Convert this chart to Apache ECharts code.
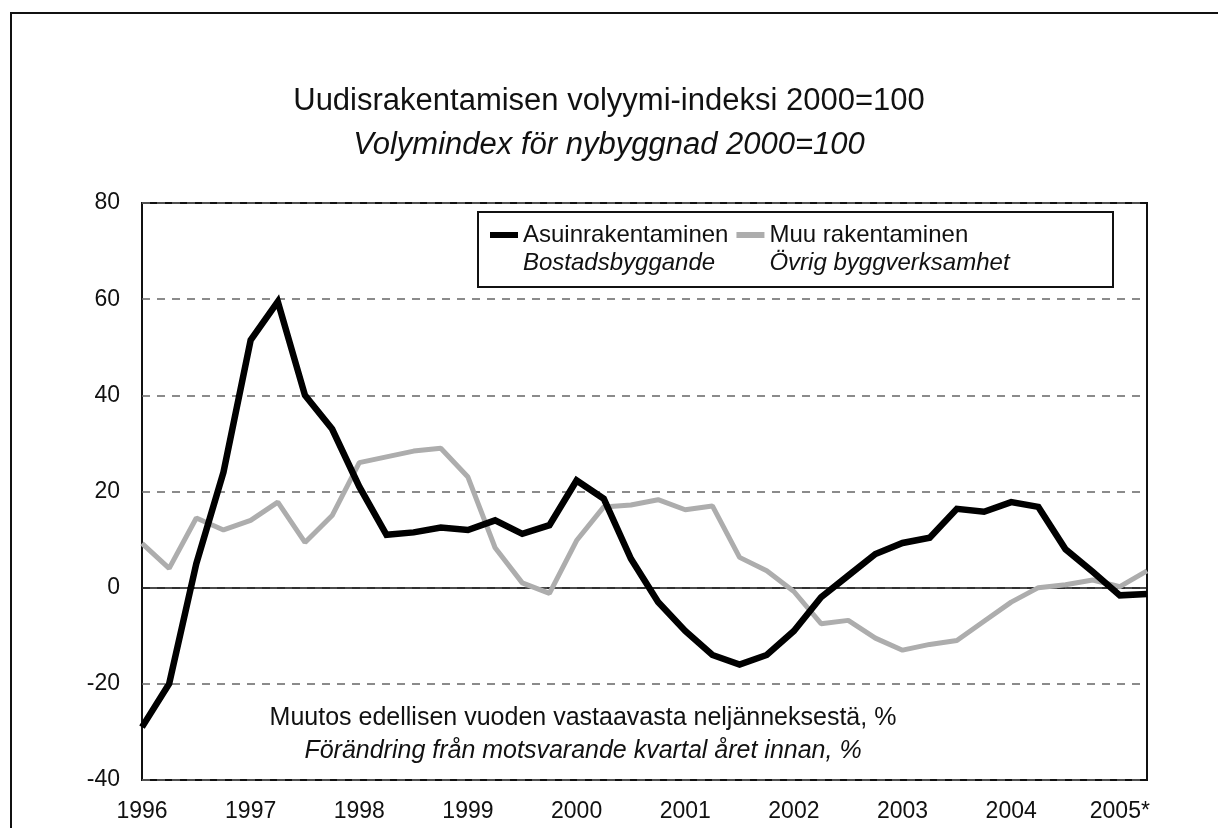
<!DOCTYPE html>
<html>
<head>
<meta charset="utf-8">
<title>Uudisrakentamisen volyymi-indeksi</title>
<script src="https://cdn.jsdelivr.net/npm/echarts@6/dist/echarts.min.js"></script>
<style>
  html, body { margin: 0; padding: 0; background: #fff; }
  #chart { width: 1218px; height: 828px; }
</style>
</head>
<body>
<div id="chart"></div>
<script>
const QUARTERS = [
  "1996 Q1", "1996 Q2", "1996 Q3", "1996 Q4",
  "1997 Q1", "1997 Q2", "1997 Q3", "1997 Q4",
  "1998 Q1", "1998 Q2", "1998 Q3", "1998 Q4",
  "1999 Q1", "1999 Q2", "1999 Q3", "1999 Q4",
  "2000 Q1", "2000 Q2", "2000 Q3", "2000 Q4",
  "2001 Q1", "2001 Q2", "2001 Q3", "2001 Q4",
  "2002 Q1", "2002 Q2", "2002 Q3", "2002 Q4",
  "2003 Q1", "2003 Q2", "2003 Q3", "2003 Q4",
  "2004 Q1", "2004 Q2", "2004 Q3", "2004 Q4",
  "2005 Q1", "2005 Q2"
];
const YEAR_LABELS = ["1996", "1997", "1998", "1999", "2000", "2001", "2002", "2003", "2004", "2005*"];

// Asuinrakentaminen / Bostadsbyggande
const housing = [
  -29, -20, 5, 24, 51.5, 59.5, 40, 33,
  21, 11, 11.5, 12.5, 12, 14, 11.2, 13,
  22.3, 18.5, 6, -3, -9, -14, -16, -14,
  -9, -2, 2.5, 7, 9.3, 10.4, 16.4, 15.8,
  17.8, 16.8, 8, 3.3, -1.6, -1.3
];
// Muu rakentaminen / Övrig byggverksamhet
const other = [
  9.2, 4, 14.5, 12, 14, 17.8, 9.4, 15,
  26, 27.2, 28.4, 29, 23, 8.3, 1, -1.2,
  9.8, 16.8, 17.2, 18.3, 16.2, 17, 6.3, 3.5,
  -0.8, -7.5, -6.8, -10.5, -13, -11.8, -11, -7,
  -3, 0, 0.6, 1.6, 0.2, 3.5
];

const FONT = "'Liberation Sans Narrow', 'Liberation Sans', Arial, sans-serif";

const chart = echarts.init(document.getElementById("chart"), null, { renderer: "canvas" });

chart.setOption({
  animation: false,
  backgroundColor: "#fff",
  title: [
    {
      text: "Uudisrakentamisen volyymi-indeksi 2000=100",
      subtext: "Volymindex för nybyggnad 2000=100",
      left: "center",
      top: 81,
      itemGap: 13,
      textStyle: { fontFamily: FONT, fontSize: 31, fontWeight: "normal", color: "#111" },
      subtextStyle: { fontFamily: FONT, fontSize: 31, fontStyle: "italic", color: "#111" }
    },
    {
      text: "Muutos edellisen vuoden vastaavasta neljänneksestä, %",
      subtext: "Förändring från motsvarande kvartal året innan, %",
      left: 578,
      textAlign: "center",
      top: 701,
      itemGap: 8,
      textStyle: { fontFamily: FONT, fontSize: 25, fontWeight: "normal", color: "#111" },
      subtextStyle: { fontFamily: FONT, fontSize: 25, fontStyle: "italic", color: "#111" }
    }
  ],
  legend: {
    left: 485,
    top: 191,
    itemGap: 8,
    icon: "rect",
    itemWidth: 28,
    itemHeight: 6,
    selectedMode: false,
    formatter: (name) => {
      const sub = name === "Asuinrakentaminen" ? "Bostadsbyggande" : "Övrig byggverksamhet";
      return `{s| }\n{a|${name}}\n{b|${sub}}`;
    },
    textStyle: {
      rich: {
        s: { fontSize: 22, lineHeight: 28 },
        a: { fontFamily: FONT, fontSize: 24, lineHeight: 28, color: "#111" },
        b: { fontFamily: FONT, fontSize: 24, lineHeight: 28, fontStyle: "italic", color: "#111" }
      }
    },
    data: ["Asuinrakentaminen", "Muu rakentaminen"]
  },
  graphic: [
    {
      type: "rect",
      shape: { x: 11, y: 13, width: 1230, height: 840 },
      style: { fill: "none", stroke: "#111", lineWidth: 2 },
      silent: true
    },
    {
      type: "rect",
      shape: { x: 478, y: 212, width: 635, height: 75 },
      style: { fill: "none", stroke: "#111", lineWidth: 2 },
      silent: true,
      z: 10
    }
  ],
  grid: {
    left: 142,
    right: 71,
    top: 203,
    bottom: 48,
    show: true,
    borderColor: "#111",
    borderWidth: 2
  },
  xAxis: {
    type: "category",
    boundaryGap: false,
    data: QUARTERS,
    axisLine: { show: false },
    axisTick: { show: false },
    axisLabel: {
      interval: 3,
      margin: 20,
      fontFamily: FONT,
      fontSize: 23,
      color: "#111",
      formatter: (value) => YEAR_LABELS[Math.round(QUARTERS.indexOf(value) / 4)]
    },
    splitLine: { show: false }
  },
  yAxis: {
    type: "value",
    min: -40,
    max: 80,
    interval: 20,
    axisLine: { show: false },
    axisTick: { show: false },
    axisLabel: { margin: 22, fontFamily: FONT, fontSize: 23, color: "#111" },
    splitLine: { lineStyle: { color: "#666", width: 1.5, type: [8, 7] } }
  },
  series: [
    {
      name: "Muu rakentaminen",
      type: "line",
      data: other,
      symbol: "none",
      color: "#adadad",
      lineStyle: { color: "#adadad", width: 5 },
      z: 3,
      markLine: {
        silent: true,
        symbol: "none",
        label: { show: false },
        lineStyle: { color: "#111", width: 1.5, type: "solid" },
        z: 1,
        data: [{ yAxis: 0 }]
      }
    },
    {
      name: "Asuinrakentaminen",
      type: "line",
      data: housing,
      symbol: "none",
      color: "#000",
      lineStyle: { color: "#000", width: 6.5, join: "miter" },
      z: 4
    }
  ]
});
</script>
</body>
</html>
